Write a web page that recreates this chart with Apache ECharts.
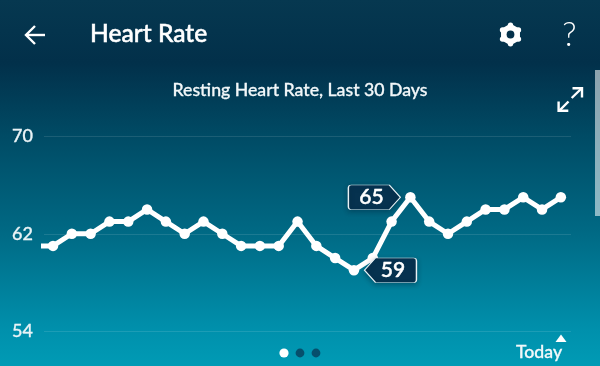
<!DOCTYPE html>
<html>
<head>
<meta charset="utf-8">
<style>html,body{margin:0;padding:0;background:#02304a}#c{width:600px;height:366px}</style>
<script src="https://cdn.jsdelivr.net/npm/echarts@6/dist/echarts.min.js"></script>
</head>
<body>
<div id="c"></div>
<script>
const days = [0,1,2,3,4,5,6,7,8,9,10,11,12,13,14,15,16,17,18,19,20,21,22,23,24,25,26,27,28];
const restingRate = [61,61,62,62,63,63,64,63,62,63,62,61,61,61,63,61,60,59,60,63,65,63,62,63,64,64,65,64,65];
const yTicks = [54,62,70];
const lowPoint = {day:17, value:59};
const highPoint = {day:20, value:65};
const FONT = 'Lato, "Open Sans", sans-serif';

const chart = echarts.init(document.getElementById('c'), null, {renderer:'canvas'});

const hexR = 9.2, gx = 510.5, gy = 34.5;
const hexPts = [0,1,2,3,4,5].map(i => {
  const a = Math.PI/3*i - Math.PI/2;
  return [gx + hexR*Math.cos(a), gy + hexR*Math.sin(a)];
});
const strokeLine = pts => ({type:'polyline',shape:{points:pts},style:{fill:null,stroke:'#fff',lineWidth:2.4}});

const seriesData = days.map((d,i) => [d, restingRate[i]]);

chart.setOption({
  animation:false,
  backgroundColor:{type:'linear',x:0,y:0,x2:0,y2:1,colorStops:[
    {offset:0,color:'#063850'},
    {offset:0.17,color:'#02304a'},
    {offset:0.38,color:'#004c66'},
    {offset:0.64,color:'#006a85'},
    {offset:0.9,color:'#0090ac'},
    {offset:1,color:'#009bb5'}
  ]},
  grid:{left:44,right:29,top:136.5,bottom:35},
  xAxis:{type:'value',min:0.52,max:28.54,show:false,splitLine:{show:false}},
  yAxis:{
    type:'value',min:yTicks[0],max:yTicks[2],interval:yTicks[1]-yTicks[0],
    axisLine:{show:false},axisTick:{show:false},
    axisLabel:{color:'#e9f3f6',fontFamily:FONT,fontSize:18,fontWeight:500,align:'left',margin:32,padding:[0,0,7,0],
      textBorderColor:'#e9f3f6',textBorderWidth:0.3},
    splitLine:{lineStyle:{color:'rgba(255,255,255,0.11)',width:1}}
  },
  series:[{
    type:'line',data:seriesData,clip:true,
    symbol:'circle',symbolSize:10.5,showSymbol:true,showAllSymbol:true,
    lineStyle:{color:'#fff',width:5,join:'round'},
    itemStyle:{color:'#fff'},
    z:3,
    markPoint:{
      silent:true,z:6,
      data:[
        {coord:[highPoint.day,highPoint.value],value:highPoint.value,
         symbol:'path://M3,0 H41 L52,12 L41,24 H3 Q0,24 0,21 V3 Q0,0 3,0 Z',
         symbolSize:[52,24.5],symbolOffset:[-36,0],
         label:{offset:[-3,0]}},
        {coord:[lowPoint.day,lowPoint.value],value:lowPoint.value,
         symbol:'path://M11,0 H49 Q52,0 52,3 V21 Q52,24 49,24 H11 L0,12 Z',
         symbolSize:[52,24.5],symbolOffset:[36.5,0],
         label:{offset:[2.5,0]}}
      ],
      itemStyle:{color:'#06324f',borderColor:'#e8f2f5',borderWidth:1,
        shadowColor:'rgba(0,30,50,0.35)',shadowBlur:5,shadowOffsetY:2},
      label:{show:true,position:'inside',color:'#fff',fontFamily:FONT,fontSize:21,fontWeight:500,
        textBorderColor:'#fff',textBorderWidth:0.5,formatter:'{c}'}
    }
  }],
  graphic:[
    {type:'text',x:90,y:34.5,style:{text:'Heart Rate',fill:'#fff',stroke:'#fff',lineWidth:0.5,font:'500 24.6px '+FONT,textVerticalAlign:'middle'}},
    {type:'text',x:300,y:90,style:{text:'Resting Heart Rate, Last 30 Days',fill:'#f2f7f9',stroke:'#f2f7f9',lineWidth:0.3,font:'500 17.7px '+FONT,textAlign:'center',textVerticalAlign:'middle'}},
    {type:'text',x:569.5,y:35,style:{text:'?',fill:'#fff',font:'300 33px '+FONT,textAlign:'center',textVerticalAlign:'middle'}},
    {type:'text',x:539,y:352,style:{text:'Today',fill:'#f2f8fa',stroke:'#f2f8fa',lineWidth:0.3,font:'500 17.7px '+FONT,textAlign:'center',textVerticalAlign:'middle'}},
    // back arrow
    strokeLine([[45,35],[26,35]]),
    strokeLine([[35,26],[26,35],[35,44]]),
    // gear
    {type:'polygon',shape:{points:hexPts},style:{fill:'#fff',stroke:'#fff',lineWidth:3,lineJoin:'round'}},
    ...hexPts.map(p => ({type:'circle',shape:{cx:p[0],cy:p[1],r:2.7},style:{fill:'#fff'}})),
    {type:'circle',shape:{cx:gx,cy:gy,r:3.9},style:{fill:'#03304a'}},
    // expand icon
    strokeLine([[571.7,98],[581.5,88.5]]),
    strokeLine([[572.5,88.2],[582,88.2],[582,97.5]]),
    strokeLine([[568.5,101.5],[559,111]]),
    strokeLine([[558.6,101.5],[558.6,110.8],[568.3,110.8]]),
    // pager dots
    {type:'circle',shape:{cx:284,cy:353,r:4.6},style:{fill:'#fff'}},
    {type:'circle',shape:{cx:300,cy:353,r:4.4},style:{fill:'#064f6c'}},
    {type:'circle',shape:{cx:316,cy:353,r:4.4},style:{fill:'#064f6c'}},
    // today marker
    {type:'polygon',shape:{points:[[561,334.5],[566.5,342],[555.5,342]]},style:{fill:'#fff'}},
    // scrollbar
    {type:'rect',shape:{x:595,y:70,width:5,height:146},style:{fill:'rgba(255,255,255,0.55)'}}
  ]
});
</script>
</body>
</html>
